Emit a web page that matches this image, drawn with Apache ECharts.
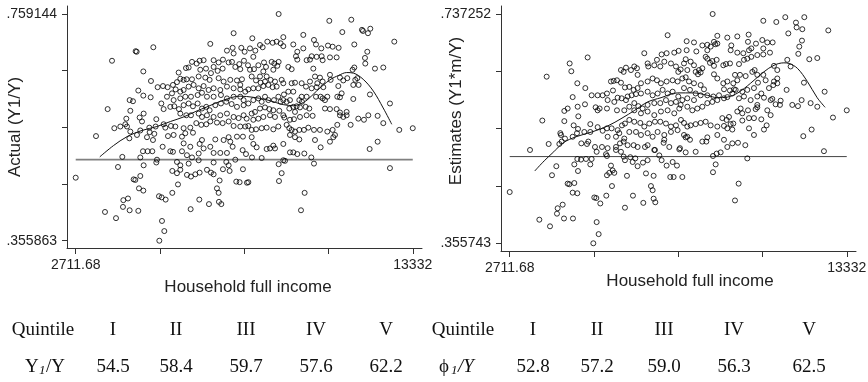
<!DOCTYPE html>
<html><head><meta charset="utf-8">
<script src="https://cdn.jsdelivr.net/npm/echarts@6/dist/echarts.min.js"></script>
<style>html,body{margin:0;padding:0;background:#fff}#c{width:868px;height:382px}</style>
</head><body><div id="c"></div><script>
// ---------- data ----------
const xTicks = [2711.68, 5366.76, 8021.84, 10676.92, 13332];
const actualYTicks = [0.355863, 0.45668325, 0.5575035, 0.65832375, 0.759144];
const estimateYTicks = [0.355743, 0.45112025, 0.5464975, 0.64187475, 0.737252];
const refLevel = 0.5;

const actualPoints = [
[7687,.725],[6952,.706],[4600,.693],[4632,.692],[5157,.700],[3855,.676],[7656,.699],[7929,.699],[7477,.694],[7687,.689],[8034,.692],[6375,.674],[6522,.671],[6616,.676],[6742,.677],[7057,.677],[7215,.673],[7351,.678],[7530,.673],[7635,.674],[7866,.670],[8013,.676],
[4842,.657],[6186,.663],[6270,.664],[5955,.655],[7183,.658],[7057,.665],[7341,.662],[7740,.665],[7897,.661],[6637,.660],[6816,.662],[6973,.654],[6112,.642],[6007,.644],[5902,.638],[6207,.643],[6375,.643],[6585,.648],[6795,.646],[6931,.642],[7215,.645],[7372,.639],[7582,.642],[7792,.641],[7950,.643],[5083,.640],[5293,.629],[5461,.631],[5608,.629],[5776,.633],[5860,.625],[4684,.623],[4842,.614],[5073,.611],[4411,.606],[4516,.604],[5587,.612],[5745,.618],[6007,.621],[6112,.624],[6270,.630],[6427,.633],[6585,.627],[6742,.631],[6900,.624],[7057,.627],[7267,.624],[7477,.630],[7687,.627],[7897,.625],[8055,.621],[5797,.606],[6007,.609],[6165,.612],[6343,.612],[6553,.615],[6690,.619],[6847,.612],[7057,.612],[7288,.615],[7477,.609],[7687,.612],[7897,.612],[8002,.606],[7897,.633],
[3718,.590],[4432,.587],[4852,.582],[4726,.575],[4306,.573],[4800,.568],[4275,.563],[4327,.559],[3928,.556],[5251,.572],[5409,.600],[5482,.590],[5692,.594],[5818,.595],[5965,.590],[6112,.597],[6270,.600],[6406,.595],[6553,.600],[6690,.591],[6826,.594],[6931,.588],[7110,.597],[7288,.600],[7456,.603],[7624,.599],[7792,.594],[8002,.597],[6007,.582],[6196,.579],[6343,.579],[6585,.582],[6690,.576],[6847,.579],[7057,.576],[7267,.579],[7477,.582],[7687,.576],[7845,.574],[8002,.579],[5031,.557],[5230,.559],[5482,.563],[5535,.557],[5713,.560],[5850,.559],[6112,.556],[6322,.557],[6511,.565],[6669,.562],[6826,.563],[6952,.568],[7162,.566],[7341,.565],[7530,.568],[7687,.560],[7897,.559],[8055,.559],[4432,.550],[4642,.544],[4747,.552],[5041,.549],[5188,.546],[4117,.559],
[3351,.542],[4401,.538],[4957,.540],[5146,.535],[5619,.542],[5797,.544],[6060,.541],[6165,.547],[6406,.548],[6616,.528],[6690,.535],[6952,.523],[7110,.536],[7372,.535],[7530,.540],[7582,.532],[7792,.541],[7981,.541],[6112,.529],[6322,.523],[6585,.511],[6742,.520],[7057,.512],[7267,.512],[7477,.512],[7656,.523],[7971,.517],[5451,.523],[4831,.515],[4978,.515],[5125,.515],[5692,.515],[5776,.514],[6060,.515],[6217,.508],[6375,.504],[4180,.505],[4747,.504],[5272,.500],[5251,.495],[4852,.490],[4044,.487],[5902,.496],[6007,.490],[6270,.493],[6585,.499],[7057,.495],[7456,.496],[7530,.490],[7740,.500],
[2711.68,.468],[4537,.465],[4590,.464],[4747,.471],[4705,.449],[4842,.445],[5755,.480],[5902,.476],[6007,.482],[6217,.473],[6343,.470],[6480,.474],[6616,.477],[6847,.482],[6973,.477],[7057,.474],[7351,.483],[7561,.480],[7981,.483],[7246,.463],[5934,.456],[7162,.449],[7215,.441],[7771,.461],[7876,.460],[5335,.435],[5419,.433],[5545,.429],[5755,.441],[6606,.429],[6910,.421],[7225,.425],[7299,.421],[8107,.459],
[4359,.431],[4212,.428],[4201,.416],[4411,.410],[4684,.409],[3634,.407],[3981,.396],[6333,.412],[5430,.391],[5503,.373],[5346,.355863],
[9106,.759144],[10702,.747],[11395,.749],[11112,.727],[11731,.731],[11763,.729],[11994,.733],[11920,.725],[12750,.710],[9883,.722],[8277,.716],[8749,.710],[8917,.708],[9043,.710],[9169,.707],[9253,.702],[9253,.718],[9568,.705],[9694,.692],[9883,.698],[10219,.713],[10282,.705],[10450,.698],[10660,.703],[10807,.701],[10996,.699],[11490,.705],[11899,.692],[11826,.681],[11836,.671],[12141,.662],[12403,.664],[11490,.664],[11437,.660],
[8203,.698],[8518,.704],[8602,.700],[8371,.694],[8308,.683],[8140,.668],[8203,.660],[8329,.661],[8466,.668],[8644,.673],[8886,.674],[8970,.671],[9064,.667],[9106,.674],[8938,.660],[8707,.665],[8518,.648],[8623,.657],[8728,.648],[8256,.648],[8392,.641],[8539,.637],[8676,.639],[8854,.642],[8991,.639],[9201,.642],[9253,.636],[9043,.630],[8917,.629],[8781,.633],[8623,.631],[8466,.627],[8308,.627],[8151,.625],
[9411,.665],[9516,.661],[9652,.684],[9694,.678],[9988,.677],[10093,.678],[10146,.684],[10303,.683],[10461,.684],[10492,.677],[10723,.682],[10933,.682],[10198,.662],[10251,.648],[10408,.646],[10492,.639],[10324,.636],[10093,.639],[9967,.630],[9831,.636],[9621,.637],[9516,.636],[9568,.621],[9411,.621],[9274,.616],[10146,.627],[10303,.629],[10513,.629],[10723,.651],[10744,.642],[10986,.631],[11038,.646],[11143,.641],[11269,.645],[11584,.645],[11521,.642],[11458,.633],[11626,.633],[11458,.608],[11038,.611],[10954,.612],[11091,.618],[10639,.612],[10492,.609],[10566,.606],[10429,.612],[10282,.612],[9988,.612],[9831,.612],[9757,.606],
[8151,.600],[8308,.606],[8466,.609],[8571,.603],[8676,.612],[8781,.606],[8959,.606],[9096,.612],[9169,.603],[9253,.606],[9358,.603],[9463,.606],[9568,.594],[9673,.595],[9778,.593],[9841,.603],[9957,.594],[10072,.591],[9621,.585],[9253,.579],[9442,.591],[9127,.587],[8938,.588],[8812,.590],[8676,.593],[8518,.591],[8361,.585],[8256,.582],[8098,.573],[8308,.571],[8466,.573],[8623,.576],[8833,.579],[8991,.576],[9285,.575],[9463,.571],[9589,.572],[9778,.576],[9988,.579],[10177,.578],[10566,.591],[10723,.590],[10933,.590],[11038,.579],[11248,.579],[11143,.576],[11038,.584],[11248,.585],[11374,.562],[11616,.573],[11794,.571],[11931,.579],[12225,.578],[11983,.616],[12613,.600],[12403,.565],[12907,.553],[13332,.556],
[8151,.560],[8256,.553],[8392,.554],[8571,.556],[8728,.557],[8938,.554],[9096,.559],[9358,.562],[9442,.556],[9516,.553],[9621,.550],[9757,.553],[10041,.557],[10219,.553],[10408,.553],[10639,.550],[10807,.553],[10954,.562],[10881,.544],[10723,.532],[10828,.540],[10429,.522],[10251,.535],[9904,.553],[9463,.544],[9621,.540],[9757,.536],[9253,.528],[8938,.525],[8833,.520],[8728,.519],[8413,.522],[8308,.528],[8256,.540],[8077,.510],[8266,.504],[8571,.503],[8991,.520],[9463,.513],[9568,.513],[9694,.510],[9915,.511],[10135,.504],[10219,.493],[9253,.499],[9306,.498],[9106,.492],[9201,.476],[9117,.462],[8151,.460],[11973,.519],[12225,.532],[12613,.485],[9925,.441],[9810,.410]
];

const estimatePoints = [
[7687,.702],[6952,.672],[4600,.655],[4653,.642],[5167,.665],[3876,.633],[7498,.670],[7656,.672],[7897,.673],[8034,.676],[6375,.648],[6532,.644],[6217,.644],[6301,.641],[6637,.650],[6721,.647],[6742,.636],[7057,.655],[7078,.650],[7267,.652],[7351,.661],[7456,.650],[7582,.658],[7792,.655],[7950,.650],[8023,.641],[4842,.622],[5094,.614],[5293,.602],[5482,.602],[5640,.602],[5776,.605],[5902,.625],[5986,.626],[5965,.610],[6091,.627],[6217,.623],[6343,.615],[6480,.616],[6616,.611],[6742,.614],[6847,.622],[7057,.625],[7215,.630],[7351,.627],[7477,.622],[7656,.625],[7845,.627],[8002,.625],[4695,.599],[4852,.583],[5083,.587],[4432,.576],[4537,.580],[5419,.582],[5482,.577],[5545,.580],[5776,.580],[5797,.594],[6007,.591],[6112,.598],[6238,.597],[6375,.594],[6427,.600],[6553,.602],[6690,.604],[6847,.605],[7057,.608],[7215,.602],[7372,.605],[7530,.611],[7687,.605],[7845,.608],[8023,.600],[6637,.589],[6763,.584],[6900,.580],[7057,.586],[7267,.589],[7456,.589],[7635,.594],[7792,.589],[7950,.591],[6091,.577],[6322,.577],[6480,.583],[6637,.577],[6847,.572],[7057,.575],[7267,.569],[7477,.575],[7687,.577],[7897,.572],[8055,.580],
[3739,.560],[4432,.559],[4873,.567],[4726,.552],[4863,.546],[5251,.554],[5251,.541],[5062,.541],[4831,.539],[4695,.533],[4453,.530],[4306,.539],[4327,.536],[4275,.521],[3939,.521],[3351,.511],[4348,.525],[5482,.549],[5640,.543],[5776,.547],[5923,.547],[6112,.544],[6249,.552],[6343,.555],[6480,.561],[6637,.558],[6826,.556],[6952,.550],[7110,.555],[7288,.558],[7456,.558],[7635,.555],[7792,.550],[7950,.552],[8107,.561],[5797,.533],[6060,.533],[6165,.539],[6322,.530],[6480,.541],[6690,.541],[6847,.536],[7057,.539],[7215,.533],[7372,.541],[7582,.536],[7792,.541],[8002,.544],
[4968,.522],[5188,.525],[5146,.521],[5398,.516],[5619,.516],[5797,.514],[6060,.516],[6186,.522],[6301,.525],[6427,.519],[6616,.519],[6742,.516],[6973,.516],[7057,.519],[7288,.511],[7582,.528],[7561,.523],[7740,.516],[8055,.512],[5115,.496],[4957,.495],[4842,.496],[5293,.496],[5251,.487],[5451,.508],[5745,.504],[5776,.501],[6060,.511],[6217,.508],[6301,.500],[6343,.494],[6511,.499],[6669,.497],[6910,.490],[7057,.494],[7267,.511],[7425,.502],[7498,.494],[7656,.485],[7845,.491],[4180,.484],[4044,.469],[4747,.487],[4863,.476],[5902,.485],[5955,.477],[6007,.473],[5776,.469],[5850,.473],[6406,.468],[6585,.491],[6742,.484],[7005,.472],[7246,.468],[7771,.466],[7876,.466],[7981,.485],
[2711.68,.441],[4537,.455],[4590,.454],[4747,.456],[4695,.440],[4842,.439],[5377,.432],[5440,.431],[5566,.422],[5755,.435],[5934,.451],[6595,.435],[6921,.423],[7162,.451],[7215,.444],[7246,.430],[7299,.424],[6343,.415],[4380,.420],[4222,.414],[4201,.405],[4422,.397],[4705,.397],[3645,.395],[3981,.384],[5451,.391],[5514,.371],[5346,.355743],
[9106,.737252],[10702,.726],[11395,.732],[11112,.724],[11731,.723],[11752,.715],[11931,.712],[11994,.732],[11490,.705],[11920,.693],[11836,.683],[11805,.671],[12151,.662],[12403,.664],[12750,.710],[9883,.700],[9568,.698],[10240,.703],[10219,.691],[9253,.701],[9148,.691],[8938,.686],[8781,.685],[9043,.683],[9190,.687],[9253,.688],[8938,.677],[8592,.675],[8518,.690],[8287,.692],[8287,.677],[9694,.685],[9673,.677],[9883,.673],[10072,.672],[10251,.677],[10324,.680],[10471,.688],[10671,.694],[10828,.690],[10996,.690],[10702,.680],[10912,.673],[10513,.669],[10324,.666],[10702,.670],[10198,.663],[10093,.661],[9936,.654],[9652,.655],[9526,.654],[9442,.652],[9232,.661],[9096,.659],[8938,.663],[8886,.666],[9022,.656],[9148,.651],[8781,.647],[8676,.644],[8518,.652],[8413,.658],[8203,.655],[8256,.662],[8098,.645],[8308,.644],[8571,.641],[8728,.640],[8644,.637],
[9148,.637],[9253,.630],[9442,.622],[9568,.625],[9757,.622],[9883,.627],[9967,.636],[9810,.636],[10146,.634],[10356,.641],[10429,.644],[10513,.636],[10702,.636],[10776,.627],[10534,.623],[10408,.614],[10198,.611],[10041,.608],[9831,.611],[9652,.610],[9463,.612],[9306,.602],[9127,.600],[8938,.602],[8833,.612],[8728,.619],[8518,.622],[8361,.625],[8256,.632],[8151,.630],[8203,.614],[8392,.611],[8571,.605],[8728,.602],[8518,.594],[8308,.597],[8151,.594],[8098,.586],[8308,.583],[8466,.577],[8623,.580],[8781,.583],[8938,.589],[9096,.591],[9253,.594],[9463,.597],[9568,.599],[9778,.612],[9726,.605],[9936,.597],[10093,.600],[10303,.594],[10513,.600],[10639,.605],[10881,.614],[11017,.619],[11143,.622],[11038,.625],[11038,.651],[11143,.644],[11458,.661],[11563,.650],[11437,.611],[11143,.630],[10986,.596],[11091,.587],[11227,.586],[11248,.593],[10933,.594],[10828,.577],[10723,.598],[10513,.586],[10461,.579],[11616,.586],[11794,.584],[11910,.594],[11983,.623],[12193,.589],[12403,.583],[12634,.608],[13332,.577],[12897,.565],[12225,.545],[11962,.534],[12613,.509],
[8203,.556],[8308,.550],[8413,.552],[8571,.554],[8728,.556],[8886,.558],[9043,.552],[9253,.550],[9411,.564],[9547,.561],[9621,.566],[9673,.554],[9463,.551],[9568,.547],[9726,.545],[9883,.575],[10041,.572],[9988,.580],[10219,.577],[10251,.564],[10408,.564],[10513,.582],[10639,.562],[10723,.545],[10807,.552],[10933,.569],[9757,.555],[10041,.560],[10251,.547],[10408,.536],
[8203,.536],[8256,.532],[8392,.528],[8308,.533],[8781,.525],[8907,.525],[8938,.532],[9253,.536],[9463,.528],[9726,.522],[9568,.516],[9904,.523],[10135,.519],[8077,.514],[8256,.507],[8571,.508],[9117,.501],[9232,.505],[9358,.507],[10198,.497],[9201,.487],[9117,.474],[8151,.466],[9925,.455],[9810,.427]
];

const actualSmoothX = [3470,3900,4330,4800,5270,5700,6110,6500,6850,7370,7890,8300,8700,9000,9250,9570,9780,10000,10300,10720,11000,11250,11460,11770,12090,12400,12670];
const actualSmoothY = [.505,.525,.541,.552,.559,.568,.576,.586,.594,.606,.613,.611,.607,.602,.598,.596,.599,.606,.622,.642,.650,.655,.654,.643,.622,.592,.563];
const estimateSmoothX = [3500,3800,4100,4400,4800,5300,5800,6250,6650,7060,7480,8000,8500,8940,9250,9570,9900,10300,10720,11040,11350,11510,11775,12090,12400,12650];
const estimateSmoothY = [.476,.493,.508,.523,.533,.541,.551,.564,.577,.591,.598,.606,.606,.602,.598,.599,.606,.622,.641,.652,.656,.655,.647,.625,.598,.582];

const quintiles = ['I','II','III','IV','V'];
const actualShares = ['54.5','58.4','59.7','57.6','62.2'];
const estimateShares = ['52.8','57.2','59.0','56.3','62.5'];

// ---------- chart ----------
const SANS = '"Liberation Sans", Arial, Helvetica, sans-serif';
const SERIF = '"Liberation Serif", "Times New Roman", "DejaVu Serif", serif';
const AX = '#333';
const chart = echarts.init(document.getElementById('c'), null, {renderer:'canvas'});

function xAxisDef(gi){
  return {
    gridIndex: gi, type:'value', min:2437, max:13623,
    axisLine:{show:true, onZero:false, lineStyle:{color:AX, width:1}},
    axisTick:{show:true, length:6, customValues:xTicks, lineStyle:{color:AX, width:1}},
    axisLabel:{customValues:[xTicks[0], xTicks[xTicks.length-1]], formatter:v=>String(v), fontSize:14, color:'#222', margin:10, fontFamily:SANS},
    splitLine:{show:false}
  };
}
function yAxisDef(gi, ticks, min, max){
  return {
    gridIndex: gi, type:'value', min:min, max:max,
    axisLine:{show:true, onZero:false, lineStyle:{color:AX, width:1}},
    axisTick:{show:true, length:5, customValues:ticks, lineStyle:{color:AX, width:1}},
    axisLabel:{customValues:[ticks[0], ticks[ticks.length-1]], formatter:v=>v.toFixed(6).replace(/^0/,''), fontSize:14, color:'#222', margin:10, fontFamily:SANS},
    splitLine:{show:false}
  };
}
function scatter(gi, pts){
  return {type:'scatter', xAxisIndex:gi, yAxisIndex:gi, data:pts, symbol:'circle', symbolSize:5,
    itemStyle:{color:'rgba(0,0,0,0)', borderColor:'#000', borderWidth:1}, silent:true, z:3};
}
function smoothLine(gi, xs, ys){
  return {type:'line', xAxisIndex:gi, yAxisIndex:gi, data:xs.map((x,i)=>[x, ys[i]]), smooth:0.35,
    showSymbol:false, lineStyle:{color:'#111', width:1}, silent:true, z:4};
}
function refLine(gi, color, w){
  return {type:'line', xAxisIndex:gi, yAxisIndex:gi, data:[[xTicks[0], refLevel],[xTicks[xTicks.length-1], refLevel]],
    showSymbol:false, lineStyle:{color:color, width:w}, silent:true, z:2};
}

const graphic = [];
function txt(x, y, s, opt){
  graphic.push({type:'text', x:x, y:y, silent:true,
    style:Object.assign({text:s, fill:'#222', font:'17px '+SANS, textAlign:'center', textVerticalAlign:'middle'}, opt||{})});
}
// axis titles
graphic.push({type:'text', x:15, y:127, rotation:Math.PI/2, silent:true,
  style:{text:'Actual (Y1/Y)', fill:'#222', font:'17px '+SANS, textAlign:'center', textVerticalAlign:'middle'}});
graphic.push({type:'text', x:456, y:111, rotation:Math.PI/2, silent:true,
  style:{text:'Estimates (Y1*m/Y)', fill:'#222', font:'17px '+SANS, textAlign:'center', textVerticalAlign:'middle'}});
txt(248, 287, 'Household full income');
txt(690, 281, 'Household full income');

// table
const F = '19px '+SERIF, FS = 'italic 13px '+SERIF;
const leftCols = [113,176,246,316,386], rightCols = [533,597,664,734,809];
const row1 = 330, row2 = 367;
txt(43, row1, 'Quintile', {font:F, fill:'#111'});
txt(463, row1, 'Quintile', {font:F, fill:'#111'});
quintiles.forEach((q,i)=>{ txt(leftCols[i], row1, q, {font:F, fill:'#111'}); txt(rightCols[i], row1, q, {font:F, fill:'#111'}); });
actualShares.forEach((v,i)=>txt(leftCols[i], row2, v, {font:F, fill:'#111'}));
estimateShares.forEach((v,i)=>txt(rightCols[i], row2, v, {font:F, fill:'#111'}));
// Y1/Y
txt(25, row2, 'Y', {font:F, fill:'#111', textAlign:'left'});
txt(39, row2+4, '1', {font:FS, fill:'#111', textAlign:'left'});
txt(46, row2, '/Y', {font:F, fill:'#111', textAlign:'left'});
// phi1/Y
txt(439, row2, '\u03D5', {font:F, fill:'#111', textAlign:'left'});
txt(451, row2+4, '1', {font:FS, fill:'#111', textAlign:'left'});
txt(458, row2, '/Y', {font:'italic '+F, fill:'#111', textAlign:'left'});

chart.setOption({
  animation:false,
  backgroundColor:'#fff',
  grid:[
    {left:67, top:6, width:355, height:242, outerBoundsMode:'none', containLabel:false},
    {left:501, top:6, width:355, height:245, outerBoundsMode:'none', containLabel:false}
  ],
  xAxis:[xAxisDef(0), xAxisDef(1)],
  yAxis:[yAxisDef(0, actualYTicks, 0.3429, 0.7734), yAxisDef(1, estimateYTicks, 0.3429, 0.7506)],
  series:[
    refLine(0, '#808080', 1.8), scatter(0, actualPoints), smoothLine(0, actualSmoothX, actualSmoothY),
    refLine(1, '#444', 1), scatter(1, estimatePoints), smoothLine(1, estimateSmoothX, estimateSmoothY)
  ],
  graphic: graphic
});
</script></body></html>
